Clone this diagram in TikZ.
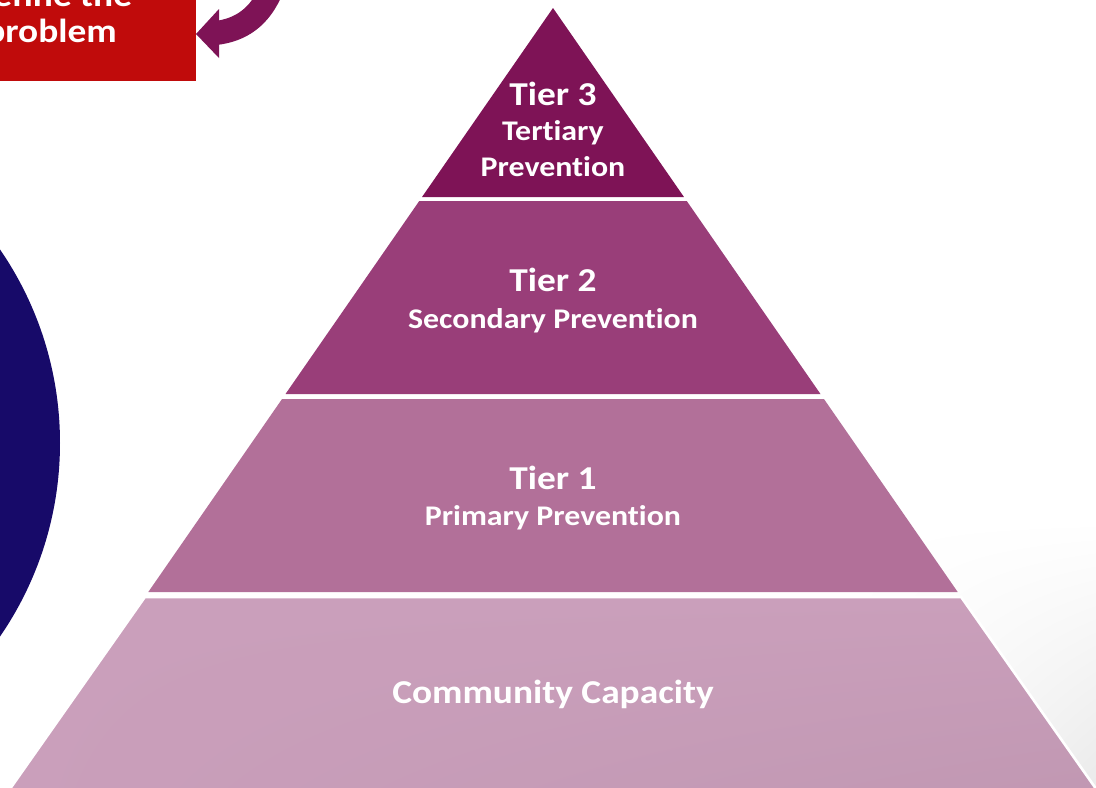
\documentclass[tikz,border=0pt]{standalone}
\usepackage{fontspec}
\setmainfont{Carlito}[FakeStretch=1.12,Ligatures=CommonOff]
\usepackage{tikz}
\usetikzlibrary{calc,shadings}
\definecolor{probred}{HTML}{C00B0B}
\definecolor{deepnavy}{HTML}{170A69}
\definecolor{plum}{HTML}{7E1356}
\definecolor{tierthree}{HTML}{7E1356}
\definecolor{tiertwo}{HTML}{993E79}
\definecolor{tierone}{HTML}{B27099}
\definecolor{tierbase}{HTML}{CA9FBB}
\tikzset{
  big/.style={text=white,font=\fontsize{19pt}{23pt}\selectfont\bfseries,anchor=base,inner sep=0pt},
  small/.style={text=white,font=\fontsize{16.2pt}{19pt}\selectfont\bfseries,anchor=base,inner sep=0pt}
}

\begin{document}
\begin{tikzpicture}[x=0.02cm,y=-0.02cm]
        \useasboundingbox (0,0) rectangle (1096,788);
        \clip (0,0) rectangle (1096,788);
        \shade[upper left=white,upper right=white,lower left=white,lower right=black!8] (850,520) rectangle (1096,788);

        \fill[deepnavy] (-282,443) circle (342);

        \fill[probred] (-60,-60) rectangle (196,81);
        \node[big] (defline) at (51,6) {Define the};
        \node[big] (probline) at (51,42) {problem};

        \draw[plum,line width=0.48cm] (216,33) .. controls (240,30) and (260,18) .. (272,-12);
        \fill[plum] (196,34) -- (219,9) -- (219,58) -- cycle;

        \foreach \ya/\yb/\col in {8/197/tierthree,201/394/tiertwo,399/592/tierone}
          \fill[\col] ({553-0.693*(\ya-8)},\ya) -- ({553+0.693*(\ya-8)},\ya)
            -- ({553+0.693*(\yb-8)},\yb) -- ({553-0.693*(\yb-8)},\yb) -- cycle;
        \shade[upper left=tierbase,upper right=tierbase,lower left=tierbase,lower right=tierbase!95!black,draw=white,line width=1.5pt]
          ({553-0.693*589},597) -- ({553+0.693*589},597) -- ({553+0.693*800},805) -- ({553-0.693*800},805) -- cycle;

        \node[big] (tthree) at (553,105) {Tier 3};
        \node[small] (tthreea) at (553,140) {Tertiary};
        \node[small] (tthreeb) at (553,176) {Prevention};
        \node[big] (ttwo) at (553,291) {Tier 2};
        \node[small] (ttwoa) at (553,328) {Secondary Prevention};
        \node[big] (tone) at (553,489) {Tier 1};
        \node[small] (tonea) at (553,525) {Primary Prevention};
        \node[big] (tbase) at (553,703) {Community Capacity};
\end{tikzpicture}
\end{document}
